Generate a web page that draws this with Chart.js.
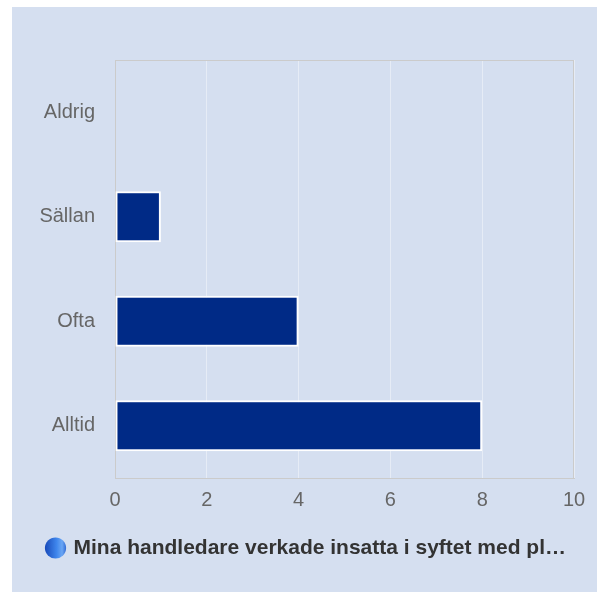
<!DOCTYPE html>
<html>
<head>
<meta charset="utf-8">
<script src="https://cdn.jsdelivr.net/npm/chart.js@4"></script>
<style>
  html, body { margin: 0; padding: 0; background: #fff; }
  #wrap {
    position: absolute; left: 12px; top: 7px;
    width: 585px; height: 585px;
    background: #d5dff0;
  }
</style>
</head>
<body>
<div id="wrap"><canvas id="chart" width="585" height="585"></canvas></div>
<script>
const categories = ['Aldrig', 'Sällan', 'Ofta', 'Alltid'];
const answers = [0, 1, 4, 8];
const seriesLabel = 'Mina handledare verkade insatta i syftet med pl…';
const xTicks = [0, 2, 4, 6, 8, 10];

document.addEventListener('DOMContentLoaded', () => {
  const ctx = document.getElementById('chart').getContext('2d');

  // box round the plot area, grey on all four sides
  const frame = {
    id: 'frame',
    beforeDatasetsDraw(chart) {
      const a = chart.chartArea;
      const c = chart.ctx;
      c.save();
      c.strokeStyle = '#cbcbcb';
      c.lineWidth = 1;
      c.strokeRect(a.left + 0.5, a.top + 0.5, a.right - a.left - 1, a.bottom - a.top);
      c.restore();
    }
  };

  // legend centred on the whole panel, shaded dot with no outline
  const legendDot = {
    id: 'legendDot',
    afterLayout(chart) {
      const lg = chart.legend;
      if (!lg) return;
      const d = 14;
      lg.left += d;
      lg.right += d;
      (lg.legendHitBoxes || []).forEach(hb => { hb.left += d; });
    },
    beforeDraw(chart) {
      const lg = chart.legend;
      if (!lg || !lg.legendHitBoxes || !lg.legendHitBoxes.length) return;
      const hb = lg.legendHitBoxes[0];
      const cx = hb.left + 7.5;
      const g = chart.ctx.createLinearGradient(cx - 11, 0, cx + 11, 0);
      g.addColorStop(0, '#1748b8');
      g.addColorStop(0.55, '#3f86ec');
      g.addColorStop(0.8, '#6aa6f4');
      g.addColorStop(1, '#2c66d2');
      const item = lg.legendItems[0];
      item.fillStyle = g;
      item.strokeStyle = 'rgba(0,0,0,0)';
      item.lineWidth = 0;
    }
  };

  new Chart(ctx, {
    type: 'bar',
    data: {
      labels: categories,
      datasets: [{
        label: seriesLabel,
        data: answers,
        backgroundColor: '#002a86',
        borderColor: '#ffffff',
        borderWidth: 2,
        borderSkipped: false,
        barPercentage: 0.49,
        categoryPercentage: 1
      }]
    },
    options: {
      indexAxis: 'y',
      responsive: false,
      animation: false,
      layout: { padding: { top: 53, right: 23, left: 0, bottom: 23.5 } },
      scales: {
        x: {
          min: 0,
          max: 10,
          afterBuildTicks: s => { s.ticks = xTicks.map(v => ({ value: v })); },
          afterFit: s => { s.height = 49.5; },
          grid: { color: 'rgba(255,255,255,0.4)', drawTicks: false },
          border: { color: '#cbcbcb' },
          ticks: {
            padding: 10,
            color: '#666',
            font: { family: '"Liberation Sans", Arial, sans-serif', size: 20 }
          }
        },
        y: {
          afterFit: s => { s.width = 103; },
          grid: { display: false, drawTicks: false },
          border: { color: '#cbcbcb' },
          ticks: {
            padding: 20,
            color: '#666',
            font: { family: '"Liberation Sans", Arial, sans-serif', size: 20 }
          }
        }
      },
      plugins: {
        legend: {
          position: 'bottom',
          labels: {
            usePointStyle: true,
            pointStyle: 'circle',
            boxWidth: 15,
            boxHeight: 15,
            padding: 10,
            color: '#333',
            font: { family: '"Liberation Sans", Arial, sans-serif', size: 21, weight: 'bold' }
          }
        },
        tooltip: { enabled: false }
      }
    },
    plugins: [frame, legendDot]
  });
});
</script>
</body>
</html>
